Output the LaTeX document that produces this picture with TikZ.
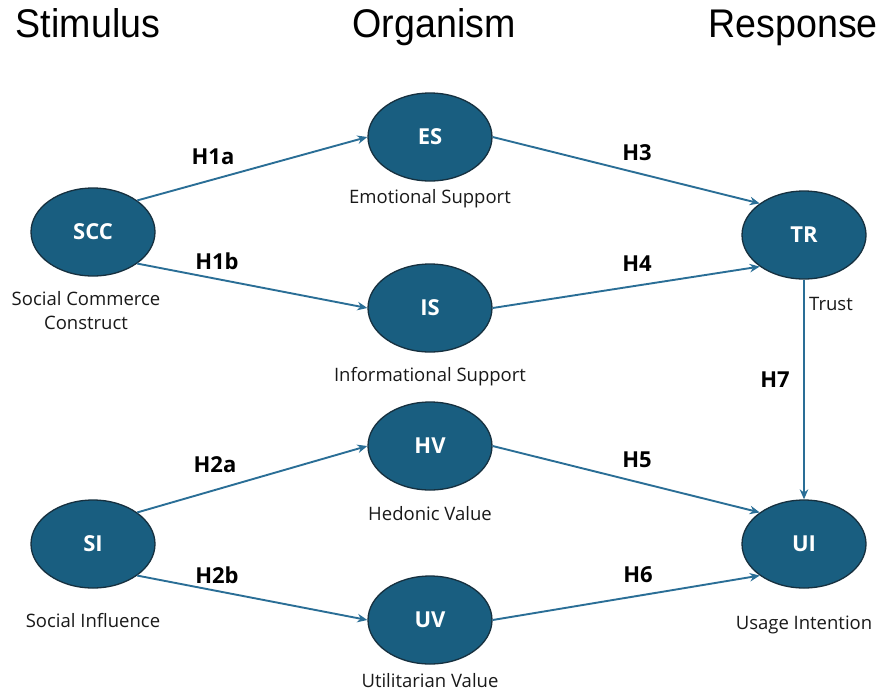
\documentclass[tikz,border=0pt]{standalone}
\usepackage{fontspec}
\setmainfont{Open Sans}
\newfontfamily\headfont[FakeStretch=0.94]{Liberation Sans}
\usetikzlibrary{shapes.geometric,arrows.meta}
\definecolor{nodefill}{HTML}{195E80}
\definecolor{nodeedge}{HTML}{16303F}
\definecolor{linkcol}{HTML}{2A6E96}
\tikzset{
  construct/.style={ellipse, fill=nodefill, draw=nodeedge, line width=1.3pt,
    minimum width=124pt, minimum height=88pt, inner sep=0pt,
    text=white, font=\fontsize{22}{24}\selectfont\bfseries},
  caption/.style={font=\fontsize{18.5}{24}\selectfont, text=black!90, align=center, inner sep=0pt},
  hyp/.style={font=\fontsize{22}{24}\selectfont\bfseries, inner sep=0pt},
  header/.style={font=\headfont\fontsize{40}{44}\selectfont, inner sep=0pt, anchor=base},
  link/.style={draw=linkcol, line width=1.9pt, -{Stealth[length=10pt,width=8.5pt]}},
}
\begin{document}
\begin{tikzpicture}[x=1pt,y=-1pt]
\useasboundingbox (0,0) rectangle (880,694);

% column headings
\node[header] (hS) at (88,37) {Stimulus};
\node[header] (hO) at (434,37) {Organism};
\node[header, anchor=base east] (hR) at (878,37) {Response};

% constructs
\node[construct] (SCC) at (93,232) {SCC};
\node[construct] (SI)  at (93,544) {SI};
\node[construct] (ES)  at (430,137) {ES};
\node[construct] (IS)  at (430,308) {IS};
\node[construct] (HV)  at (430,446) {HV};
\node[construct] (UV)  at (430,620) {UV};
\node[construct] (TR)  at (804,235) {TR};
\node[construct] (UI)  at (804,544) {UI};

% construct names
\node[caption] (cSCC) at (86,311) {Social Commerce\\Construct};
\node[caption] (cSI)  at (93,620) {Social Influence};
\node[caption] (cES)  at (430,199) {Emotional Support};
\node[caption] (cIS)  at (430,377) {Informational Support};
\node[caption] (cHV)  at (430,514) {Hedonic Value};
\node[caption] (cUV)  at (430,681) {Utilitarian Value};
\node[caption] (cTR)  at (831,304) {Trust};
\node[caption] (cUI)  at (804,625) {Usage Intention};

% hypothesised paths
\draw[link] (SCC.north east) -- (ES.west);
\draw[link] (SCC.south east) -- (IS.west);
\draw[link] (SI.north east) -- (HV.west);
\draw[link] (SI.south east) -- (UV.west);
\draw[link] (ES.east) -- (TR.north west);
\draw[link] (IS.east) -- (TR.south west);
\draw[link] (HV.east) -- (UI.north west);
\draw[link] (UV.east) -- (UI.south west);
\draw[link] (TR.south) -- (UI.north);

% path labels
\node[hyp] (h1a) at (213,157) {H1a};
\node[hyp] (h1b) at (217,261) {H1b};
\node[hyp] (h2a) at (215,465) {H2a};
\node[hyp] (h2b) at (217,575) {H2b};
\node[hyp] (h3)  at (637,153) {H3};
\node[hyp] (h4)  at (637,264) {H4};
\node[hyp] (h5)  at (637,460) {H5};
\node[hyp] (h6)  at (638,575) {H6};
\node[hyp] (h7)  at (775,380) {H7};
\end{tikzpicture}
\end{document}
